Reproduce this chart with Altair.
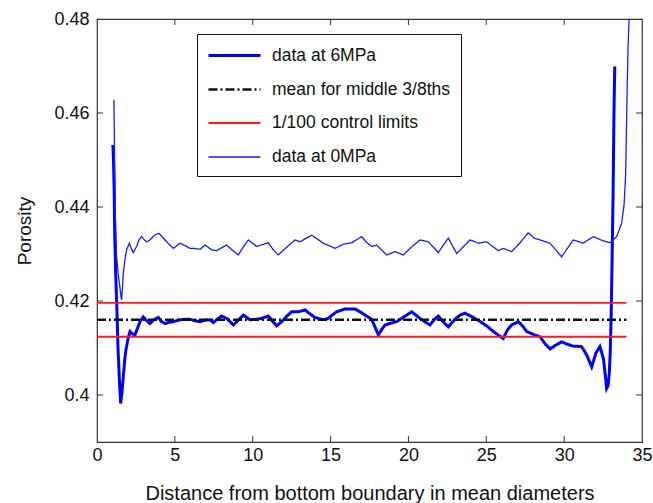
import altair as alt
import pandas as pd

# ---- data ----
series_names = ["data at 6MPa", "mean for middle 3/8ths", "1/100 control limits", "data at 0MPa"]

x_6mpa = [1.02, 1.06, 1.10, 1.14, 1.2, 1.27, 1.35, 1.44, 1.52, 1.6, 1.69, 1.78, 1.86, 1.98, 2.12, 2.28,
          2.44, 2.6, 2.76, 2.97, 3.2, 3.4, 3.65, 3.94, 4.15, 4.37, 4.65, 4.9, 5.33, 5.65, 5.97, 6.3,
          6.62, 6.9, 7.26, 7.47, 7.75, 8.01, 8.33, 8.76, 9.1, 9.4, 9.83, 10.2, 10.57, 11.0, 11.25,
          11.53, 11.86, 12.2, 12.5, 12.93, 13.36, 13.7, 14.0, 14.53, 14.85, 15.1, 15.39, 15.92, 16.57,
          17.0, 17.3, 17.64, 17.85, 18.07, 18.3, 18.5, 18.9, 19.24, 19.7, 20.21, 20.74, 21.05, 21.39,
          21.65, 21.92, 22.25, 22.56, 22.95, 23.31, 23.63, 24.17, 24.81, 25.1, 25.45, 25.8, 26.09,
          26.35, 26.63, 27.06, 27.3, 27.6, 27.81, 28.1, 28.45, 28.8, 29.1, 29.45, 29.84, 30.2, 30.58,
          31.12, 31.45, 31.77, 32.05, 32.3, 32.52, 32.65, 32.73, 32.82, 32.9, 32.96, 33.02, 33.08,
          33.14, 33.2, 33.25]
y_6mpa = [0.4532, 0.4500, 0.4440, 0.4340, 0.4260, 0.4190, 0.4100, 0.4030, 0.3982, 0.4005, 0.4039,
          0.4075, 0.4096, 0.4118, 0.4135, 0.4130, 0.4128, 0.4142, 0.4156, 0.4166, 0.4158, 0.4152,
          0.4160, 0.4165, 0.4156, 0.4152, 0.4155, 0.4156, 0.4160, 0.4161, 0.4161, 0.4158, 0.4156,
          0.4159, 0.4160, 0.4154, 0.4162, 0.4168, 0.4163, 0.4149, 0.4160, 0.4170, 0.4160, 0.4161,
          0.4163, 0.4168, 0.4158, 0.4147, 0.4156, 0.4168, 0.4177, 0.4177, 0.4181, 0.4172, 0.4165,
          0.4160, 0.4163, 0.4170, 0.4177, 0.4183, 0.4183, 0.4175, 0.4168, 0.4161, 0.4145, 0.4128,
          0.4140, 0.4149, 0.4153, 0.4156, 0.4166, 0.4177, 0.4163, 0.4156, 0.4149, 0.4160, 0.4168,
          0.4155, 0.4145, 0.4160, 0.4170, 0.4174, 0.4165, 0.4152, 0.4145, 0.4135, 0.4127, 0.4120,
          0.4138, 0.4149, 0.4156, 0.4148, 0.4135, 0.4132, 0.4128, 0.4124, 0.4108, 0.4098, 0.4106,
          0.4113, 0.4108, 0.4104, 0.4103, 0.4085, 0.4060, 0.4090, 0.4103, 0.4078, 0.4040, 0.4014,
          0.4020, 0.4046, 0.4090, 0.4170, 0.4290, 0.4420, 0.4600, 0.4699]

x_0mpa = [1.09, 1.13, 1.18, 1.25, 1.35, 1.45, 1.52, 1.58, 1.64, 1.69, 1.8, 1.9, 2.08, 2.2, 2.33,
          2.54, 2.7, 2.86, 3.05, 3.19, 3.4, 3.7, 3.98, 4.2, 4.47, 4.9, 5.33, 5.65, 5.97, 6.19, 6.62,
          6.94, 7.36, 7.68, 8.32, 8.7, 9.07, 9.4, 9.72, 10.25, 11.0, 11.3, 11.64, 12.2, 12.72, 13.04,
          13.78, 14.15, 14.53, 15.29, 15.82, 16.36, 17.0, 17.3, 17.64, 17.96, 18.6, 19.14, 19.67,
          20.2, 20.74, 21.28, 21.92, 22.56, 23.1, 23.96, 24.49, 25.02, 25.77, 26.09, 26.63, 27.2,
          27.69, 28.1, 28.45, 29.09, 29.84, 30.58, 31.22, 31.87, 32.5, 32.95, 33.37, 33.69, 33.85,
          33.95, 34.02, 34.1, 34.2]
y_0mpa = [0.4628, 0.4500, 0.4380, 0.4300, 0.4260, 0.4235, 0.4215, 0.4202, 0.4230, 0.4259, 0.4290,
          0.4309, 0.4323, 0.4312, 0.4303, 0.4316, 0.4330, 0.4337, 0.4330, 0.4326, 0.4330, 0.4340,
          0.4344, 0.4336, 0.4326, 0.4312, 0.4323, 0.4318, 0.4312, 0.4312, 0.4310, 0.4319, 0.4309,
          0.4307, 0.4319, 0.4308, 0.4298, 0.4315, 0.4330, 0.4316, 0.4324, 0.4310, 0.4298, 0.4315,
          0.4330, 0.4326, 0.4340, 0.4332, 0.4323, 0.4312, 0.4321, 0.4324, 0.4337, 0.4325, 0.4316,
          0.4319, 0.4298, 0.4305, 0.4298, 0.4315, 0.4330, 0.4326, 0.4303, 0.4334, 0.4301, 0.4330,
          0.4323, 0.4326, 0.4307, 0.4312, 0.4305, 0.4325, 0.4345, 0.4333, 0.4330, 0.4323, 0.4294,
          0.4330, 0.4323, 0.4337, 0.4328, 0.4324, 0.4337, 0.4365, 0.4405, 0.4470, 0.4600, 0.4734,
          0.4830]

ref_x = [0, 34]
mean_value = 0.4160
upper_limit = 0.4196
lower_limit = 0.4124

x_ticks = [0, 5, 10, 15, 20, 25, 30, 35]
y_ticks = [0.40, 0.42, 0.44, 0.46, 0.48]
x_inner_ticks = [5, 10, 15, 20, 25, 30]
y_inner_ticks = [0.40, 0.42, 0.44, 0.46]

# ---- table ----
rows = []
for x, y in zip(x_6mpa, y_6mpa):
    rows.append({"x": x, "y": y, "series": series_names[0], "part": "a"})
for x in ref_x:
    rows.append({"x": x, "y": mean_value, "series": series_names[1], "part": "m"})
for x in ref_x:
    rows.append({"x": x, "y": upper_limit, "series": series_names[2], "part": "u"})
for x in ref_x:
    rows.append({"x": x, "y": lower_limit, "series": series_names[2], "part": "l"})
for x, y in zip(x_0mpa, y_0mpa):
    rows.append({"x": x, "y": y, "series": series_names[3], "part": "b"})
df = pd.DataFrame(rows)

W, H = 545, 423
FONT = "Liberation Sans"
FRAME = "#333333"

x_scale = alt.Scale(domain=[0, 35], nice=False, zero=False)
y_scale = alt.Scale(domain=[0.39, 0.48], nice=False, zero=False)
x_axis = alt.Axis(values=x_ticks, title="Distance from bottom boundary in mean diameters",
                  tickSize=0, domain=False, grid=False, labelPadding=4, labelFontSize=18,
                  labelFont=FONT, labelColor="#111", titleFont=FONT, titleFontSize=20,
                  titleFontWeight="normal", titleColor="#111", titleY=51, titleBaseline="middle",
                  labelFlush=False)
y_axis = alt.Axis(values=y_ticks, format=".2~f", title="Porosity", tickSize=0, domain=False,
                  grid=False, labelPadding=8, labelFontSize=18, labelFont=FONT, labelColor="#111",
                  titleFont=FONT, titleFontSize=19, titleFontWeight="normal", titleColor="#111",
                  titleX=-73, titleBaseline="middle", labelFlush=False)

legend = alt.Legend(title=None, orient="none", legendX=100, legendY=15,
                    symbolType="M-1,0H4.2", symbolSize=400, labelOffset=42,
                    rowPadding=14, padding=10, strokeColor="#111", fillColor="white",
                    labelFont=FONT, labelFontSize=17.5, labelColor="#111", labelLimit=400)

colors = ["#0000ff", "#111111", "#ff1a1a", "#1a1aff"]
widths = [3.0, 1.3, 1.3, 1.2]
dashes = [[1, 0], [9, 3, 2, 3], [1, 0], [1, 0]]

lines = alt.Chart(df).mark_line(clip=True).encode(
    x=alt.X("x:Q", scale=x_scale, axis=x_axis),
    y=alt.Y("y:Q", scale=y_scale, axis=y_axis),
    color=alt.Color("series:N", scale=alt.Scale(domain=series_names, range=colors), legend=legend),
    strokeWidth=alt.StrokeWidth("series:N", scale=alt.Scale(domain=series_names, range=widths), legend=legend),
    strokeDash=alt.StrokeDash("series:N", scale=alt.Scale(domain=series_names, range=dashes), legend=legend),
    detail="part:N",
)

xt = pd.DataFrame({"x": x_inner_ticks})
yt = pd.DataFrame({"y": y_inner_ticks})
tick_bottom = alt.Chart(xt).mark_rule(color=FRAME, strokeWidth=1).encode(
    x=alt.X("x:Q", scale=x_scale, axis=x_axis), y=alt.value(H), y2=alt.value(H - 6))
tick_top = alt.Chart(xt).mark_rule(color=FRAME, strokeWidth=1).encode(
    x=alt.X("x:Q", scale=x_scale, axis=x_axis), y=alt.value(0), y2=alt.value(6))
tick_left = alt.Chart(yt).mark_rule(color=FRAME, strokeWidth=1).encode(
    y=alt.Y("y:Q", scale=y_scale, axis=y_axis), x=alt.value(0), x2=alt.value(6))
tick_right = alt.Chart(yt).mark_rule(color=FRAME, strokeWidth=1).encode(
    y=alt.Y("y:Q", scale=y_scale, axis=y_axis), x=alt.value(W), x2=alt.value(W - 6))

chart = alt.layer(lines, tick_bottom, tick_top, tick_left, tick_right).properties(
    width=W, height=H,
    padding={"left": 97, "top": 19, "right": 11, "bottom": 61},
    autosize=alt.AutoSizeParams(type="none"),
    background="white",
).configure_view(stroke=FRAME, strokeWidth=1.2)

chart.save("out.html", embed_options={"renderer": "svg", "actions": False})
